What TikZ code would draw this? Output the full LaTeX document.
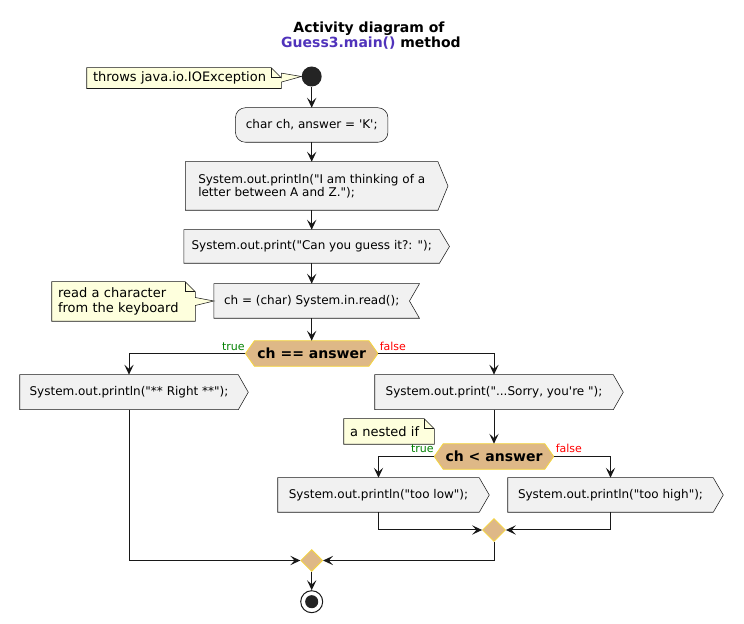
\documentclass[tikz,border=0pt]{standalone}
\usepackage{fontspec}
\setmainfont{DejaVu Sans}[Ligatures=TeXOff]
\usetikzlibrary{shapes.geometric,arrows.meta,calc}
\pgfdeclarelayer{bg}\pgfsetlayers{bg,main}
\definecolor{actfill}{HTML}{F1F1F1}
\definecolor{actline}{HTML}{181818}
\definecolor{notefill}{HTML}{FEFFDD}
\definecolor{decfill}{HTML}{DEB887}
\definecolor{decline}{HTML}{F5D63C}
\definecolor{titleblue}{HTML}{5033BB}
\definecolor{truegreen}{HTML}{008000}
\definecolor{falsered}{HTML}{FF0000}
\begin{document}
\begin{tikzpicture}[x=0.75pt,y=-0.75pt,
  acttxt/.style={inner sep=0pt, font=\fontsize{9}{10}\selectfont},
  notetxt/.style={inner xsep=4.5pt, inner ysep=0pt, align=left, font=\fontsize{9.75}{11.25}\selectfont},
  dectxt/.style={inner sep=0pt, font=\bfseries\fontsize{10.5}{12}\selectfont},
  lbl/.style={inner sep=0pt, font=\fontsize{8.25}{9}\selectfont},
  titletxt/.style={inner sep=0pt, font=\bfseries\fontsize{10.5}{12}\selectfont},
  boxline/.style={fill=actfill, draw=actline, line width=0.4pt},
  noteline/.style={fill=notefill, draw=actline, line width=0.4pt},
  decline/.style={fill=decfill, draw=decline, line width=0.6pt},
  merge/.style={diamond, inner sep=0pt, aspect=1, fill=decfill, draw=decline, line width=0.6pt},
  conn/.style={draw=actline, line width=0.75pt, -{Stealth[length=7.5pt,width=7pt,inset=3.2pt]}},
  plain/.style={draw=actline, line width=0.75pt}]
\useasboundingbox (0,0) rectangle (744,624);

% title
\node[titletxt, anchor=base] (title1) at (369,32.5) {Activity diagram of};
\node[titletxt, anchor=base] (title2) at (371,48) {\textcolor{titleblue}{Guess3.main()} method};

% start / end
\node[circle, fill=actline!95, inner sep=0pt, minimum size=15pt] (start) at (311.7,76.5) {};
\node[circle, draw=actline, line width=0.75pt, fill=white, inner sep=0pt, minimum size=16.5pt] (end) at (311.7,601.7) {};
\fill[actline!95] (end.center) circle (4.9pt);

% actions
\node[acttxt, minimum width=114pt, minimum height=25.5pt] (a0) at (311.7,125) {char ch, answer = 'K';};
\node[acttxt, align=left, minimum width=189pt, minimum height=36pt] (a1) at (311.7,186) {System.out.println("I am thinking of a\\letter between A and Z.");};
\node[acttxt, minimum width=191.25pt, minimum height=24.75pt] (a2) at (311.7,246.5) {System.out.print("Can you guess it?: ");};
\node[acttxt, minimum width=146.25pt, minimum height=25.5pt] (a3) at (311.7,301) {ch = (char) System.in.read();};
\node[dectxt, minimum width=99pt, minimum height=18.75pt] (d1) at (311.7,353.5) {ch == answer};
\node[acttxt, minimum width=163.5pt, minimum height=25.9pt] (a4) at (129,392.2) {System.out.println("** Right **");};
\node[acttxt, minimum width=178.5pt, minimum height=25.9pt] (a5) at (494,392.2) {System.out.print("...Sorry, you're ");};
\node[dectxt, minimum width=89.25pt, minimum height=18.75pt] (d2) at (494,456.5) {ch < answer};
\node[acttxt, minimum width=150.75pt, minimum height=25.5pt] (a6) at (378.5,495) {System.out.println("too low");};
\node[acttxt, minimum width=153.75pt, minimum height=25.5pt] (a7) at (610.5,495) {System.out.println("too high");};
\node[merge, minimum size=17.25pt] (m1) at (494,530) {};
\node[merge, minimum size=16.5pt] (m2) at (311.7,560.5) {};

% notes
\node[notetxt, text width=136.5pt, minimum height=15.2pt] (n1) at (184,78.1) {throws java.io.IOException};
\node[notetxt, text width=98.25pt, minimum height=29.25pt] (n2) at (123.5,301.5) {read a character\\from the keyboard};
\node[notetxt, text width=58.5pt, minimum height=18.75pt] (n3) at (389,431.5) {a nested if};

% branch labels
\node[lbl, text=truegreen, anchor=base east] (t1) at (245,351) {true};
\node[lbl, text=falsered, anchor=base west] (f1) at (379.5,351) {false};
\node[lbl, text=truegreen, anchor=base east] (t2) at (434,453) {true};
\node[lbl, text=falsered, anchor=base west] (f2) at (555.5,453) {false};

% outlines
\begin{pgfonlayer}{bg}
\path[boxline, rounded corners=7.5pt] (a0.north west) rectangle (a0.south east);
\foreach \n in {a1,a2,a4,a5,a6,a7}{
  \path[boxline] (\n.north west) -- (\n.north east) -- ([xshift=7.5pt]\n.east) -- (\n.south east) -- (\n.south west) -- cycle;
}
\path[boxline] (a3.north west) -- ([xshift=7.5pt]a3.north east) -- (a3.east) -- ([xshift=7.5pt]a3.south east) -- (a3.south west) -- cycle;
\foreach \n in {d1,d2}{
  \path[decline] (\n.west) -- ([xshift=6.75pt]\n.north west) -- ([xshift=-6.75pt]\n.north east) -- (\n.east) -- ([xshift=-6.75pt]\n.south east) -- ([xshift=6.75pt]\n.south west) -- cycle;
}
% notes with fold and pointer
\path[noteline] (n1.north west) -- ([xshift=-7.5pt]n1.north east) -- ([yshift=-7.5pt]n1.north east) -- ([yshift=3.75pt]n1.east) -- (start.west) -- ([yshift=-3pt]n1.east) -- (n1.south east) -- (n1.south west) -- cycle;
\draw[actline, line width=0.4pt] ([xshift=-7.5pt]n1.north east) -- ([xshift=-7.5pt,yshift=-7.5pt]n1.north east) -- ([yshift=-7.5pt]n1.north east);
\path[noteline] (n2.north west) -- ([xshift=-7.5pt]n2.north east) -- ([yshift=-7.5pt]n2.north east) -- ([yshift=3pt]n2.east) -- (a3.west) -- ([yshift=-3pt]n2.east) -- (n2.south east) -- (n2.south west) -- cycle;
\draw[actline, line width=0.4pt] ([xshift=-7.5pt]n2.north east) -- ([xshift=-7.5pt,yshift=-7.5pt]n2.north east) -- ([yshift=-7.5pt]n2.north east);
\path[noteline] (n3.north west) -- ([xshift=-7.5pt]n3.north east) -- ([yshift=-7.5pt]n3.north east) -- (n3.south east) -- (n3.south west) -- cycle;
\draw[actline, line width=0.4pt] ([xshift=-7.5pt]n3.north east) -- ([xshift=-7.5pt,yshift=-7.5pt]n3.north east) -- ([yshift=-7.5pt]n3.north east);
\end{pgfonlayer}

% connectors
\draw[conn] (start.south) -- (a0.north);
\draw[conn] (a0.south) -- (a1.north);
\draw[conn] (a1.south) -- (a2.north);
\draw[conn] (a2.south) -- (a3.north);
\draw[conn] (a3.south) -- (d1.north);
\draw[conn] (d1.west) -| (a4.north);
\draw[conn] (d1.east) -| (a5.north);
\draw[conn] (a5.south) -- (d2.north);
\draw[conn] (d2.west) -| (a6.north);
\draw[conn] (d2.east) -| (a7.north);
\draw[conn] (a6.south) |- (m1.west);
\draw[conn] (a7.south) |- (m1.east);
\draw[conn] (a4.south) |- (m2.west);
\draw[conn] (m1.south) |- (m2.east);
\draw[conn] (m2.south) -- (end.north);
\end{tikzpicture}
\end{document}
